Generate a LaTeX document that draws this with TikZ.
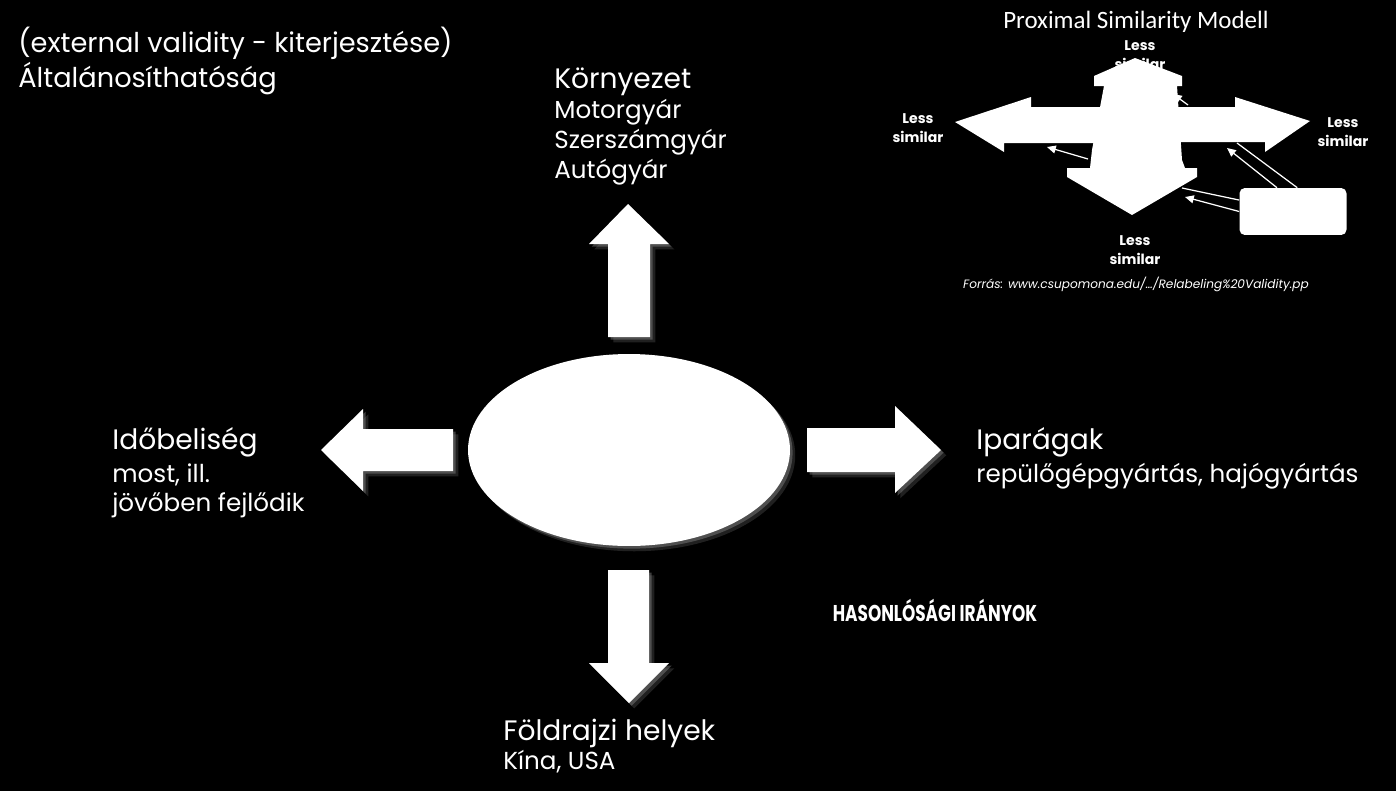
\documentclass[tikz,border=0pt]{standalone}
\usepackage{fontspec}
\setmainfont{Poppins}
\newfontfamily\calibrifont{Carlito}
\usetikzlibrary{arrows.meta, positioning, shapes.geometric}
\definecolor{glowgray}{RGB}{150,150,150}
\tikzset{
  glow/.style={
    preaction={fill=glowgray, opacity=0.22,
      transform canvas={shift={(3pt,-3pt)}}},
    preaction={fill=glowgray, opacity=0.4,
      transform canvas={shift={(1.5pt,-1.5pt)}}}},
  blockarrow/.style={fill=white, glow},
  hub/.style={ellipse, fill=white, glow, minimum width=6.44cm,
    minimum height=3.84cm, inner sep=0pt},
  head/.style={text=white, align=left, inner sep=0pt, anchor=base west,
    font=\fontsize{16}{17.07}\selectfont},
  sub/.style={head, font=\fontsize{14}{17.07}\selectfont},
  less/.style={text=white, align=center, inner sep=0pt,
    font=\fontsize{8}{10.8}\selectfont\bfseries},
  inset/.style={fill=white},
  thinln/.style={white, line width=0.7pt},
  thinarr/.style={thinln, -{Triangle[length=5pt,width=4.5pt]}}
}
\begin{document}
\begin{tikzpicture}[x=0.02cm, y=-0.02cm]
  \fill[black] (0,0) rectangle (1396,791);
  \useasboundingbox (0,0) rectangle (1396,791);

  % block arrows around the hub
  \fill[blockarrow] (628,204) -- (669,244) -- (650,244) -- (650,337)
    -- (608,337) -- (608,244) -- (589,244) -- cycle;
  \fill[blockarrow] (629,703) -- (669,663) -- (649,663) -- (649,570)
    -- (608,570) -- (608,663) -- (589,663) -- cycle;
  \fill[blockarrow] (321,450) -- (363,409) -- (363,429) -- (453,429)
    -- (453,471) -- (363,471) -- (363,491) -- cycle;
  \fill[blockarrow] (941,450) -- (895,406) -- (895,428) -- (807,428)
    -- (807,472) -- (895,472) -- (895,493) -- cycle;
  \node[hub] (hub) at (629,450) {};

  % texts
  \node[head, font=\fontsize{15.5}{18.2}\selectfont] (gen) at (18,87)
    {(external validity - kiterjesztése)\\Általánosíthatóság};
  \node[head] (env) at (554,88) {Környezet};
  \node[sub] (envsub) at (554,178) {Motorgyár\\Szerszámgyár\\Autógyár};
  \node[head] (time) at (112,449) {Időbeliség};
  \node[sub, font=\fontsize{14}{16.5}\selectfont] (timesub) at (112,511)
    {most, ill.\\jövőben fejlődik};
  \node[head] (ind) at (976,449) {Iparágak};
  \node[sub] (indsub) at (976,482) {repülőgépgyártás, hajógyártás};
  \node[head] (geo) at (503,740) {Földrajzi helyek};
  \node[sub] (geosub) at (503,769) {Kína, USA};
  \node[text=white, font=\fontsize{13}{15}\selectfont\bfseries,
    xscale=0.74, transform shape] (dirs) at (935,610) {HASONLÓSÁGI IRÁNYOK};

  % proximal similarity inset
  \node[text=white, font=\calibrifont\fontsize{14.2}{16}\selectfont]
    (title) at (1136,22) {Proximal Similarity Modell};
  \fill[inset] (955,122) -- (1031,97) -- (1031,107) -- (1100,107)
    -- (1100,143) -- (1004,143) -- (1004,152) -- cycle;
  \fill[inset] (1177,107) -- (1235,107) -- (1235,97) -- (1310,121)
    -- (1265,152) -- (1265,142) -- (1177,142) -- cycle;
  \fill[inset] (1135,58) -- (1182,76) -- (1182,86) -- (1177,86)
    -- (1182,160) -- (1185,168) -- (1197,168) -- (1197,177) -- (1132,215)
    -- (1067,177) -- (1067,168) -- (1090,168) -- (1092,150) -- (1104,86)
    -- (1094,86) -- (1094,76) -- cycle;
  \node[inset, rounded corners=3pt, minimum width=2.14cm,
    minimum height=0.94cm] (ref) at (1293,211.5) {};

  \node[less] (lsup) at (1140,55) {Less\\similar};
  \node[less] (lsleft) at (918,128) {Less\\similar};
  \node[less] (lsright) at (1343,132) {Less\\similar};
  \node[less] (lsdown) at (1135,250) {Less\\similar};
  \node[text=white, font=\fontsize{6.9}{8}\selectfont\itshape]
    (src) at (1136,284) {Forrás: www.csupomona.edu/…/Relabeling\%20Validity.pp};

  \coordinate (a1) at (1237,143);
  \coordinate (a2) at (1227,148);
  \coordinate (a3) at (1182,188);
  \coordinate (a4) at (1185,197);
  \coordinate (c1) at (1088,159);
  \coordinate (a5) at (1047,147);
  \coordinate (c2) at (1188,105);
  \coordinate (a6) at (1173,94);
  \draw[thinln] (ref.80) -- (a1);
  \draw[thinarr] (ref.124) -- (a2);
  \draw[thinln] (ref.168) -- (a3);
  \draw[thinarr] (ref.180) -- (a4);
  \draw[thinarr] (c1) -- (a5);
  \draw[thinarr] (c2) -- (a6);
\end{tikzpicture}
\end{document}
